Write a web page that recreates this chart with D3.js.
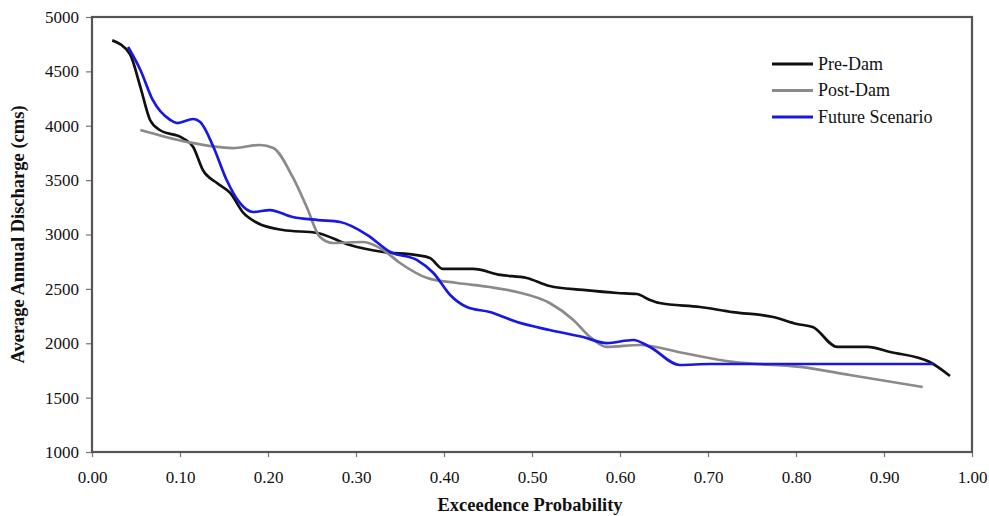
<!DOCTYPE html>
<html>
<head>
<meta charset="utf-8" />
<style>
  body { margin: 0; background: #fff; }
  text { font-family: "Liberation Serif", "Times New Roman", serif; fill: #111; }
  .tick text { font-size: 17px; }
  .title { font-size: 18.5px; font-weight: bold; }
  .legend { font-size: 18px; }
</style>
</head>
<body>
<div id="chart"></div>
<script src="https://cdn.jsdelivr.net/npm/d3@7/dist/d3.min.js"></script>
<script>
var seriesNames = ["Pre-Dam", "Post-Dam", "Future Scenario"];
var seriesColors = ["#111111", "#8a8a8a", "#1818e6"];

var preDamP = [0.023, 0.043, 0.055, 0.066, 0.077, 0.103, 0.115, 0.126, 0.142, 0.157, 0.172, 0.188, 0.217, 0.256, 0.293, 0.331, 0.369, 0.384, 0.399, 0.433, 0.464, 0.494, 0.520, 0.558, 0.597, 0.619, 0.634, 0.645, 0.691, 0.728, 0.774, 0.801, 0.819, 0.847, 0.881, 0.907, 0.952, 0.975];
var preDamQ = [4785, 4660, 4356, 4053, 3961, 3887, 3805, 3593, 3474, 3382, 3198, 3106, 3041, 3014, 2903, 2839, 2811, 2784, 2683, 2683, 2628, 2600, 2526, 2490, 2462, 2453, 2398, 2370, 2333, 2287, 2241, 2177, 2149, 1966, 1966, 1920, 1828, 1699];

var postDamP = [0.055, 0.108, 0.160, 0.191, 0.206, 0.228, 0.244, 0.259, 0.274, 0.308, 0.331, 0.350, 0.381, 0.415, 0.452, 0.483, 0.520, 0.547, 0.566, 0.585, 0.623, 0.672, 0.728, 0.805, 0.861, 0.944];
var postDamQ = [3961, 3851, 3795, 3823, 3795, 3529, 3253, 2977, 2922, 2931, 2857, 2738, 2600, 2554, 2517, 2471, 2370, 2214, 2057, 1966, 1984, 1910, 1828, 1782, 1708, 1598];

var futureP = [0.041, 0.055, 0.069, 0.089, 0.097, 0.115, 0.123, 0.138, 0.153, 0.168, 0.183, 0.202, 0.228, 0.257, 0.282, 0.313, 0.339, 0.369, 0.388, 0.407, 0.426, 0.452, 0.483, 0.520, 0.558, 0.585, 0.615, 0.634, 0.668, 0.702, 0.956];
var futureQ = [4724, 4513, 4237, 4053, 4025, 4062, 4034, 3805, 3501, 3290, 3207, 3225, 3161, 3133, 3115, 2995, 2839, 2766, 2646, 2444, 2333, 2287, 2195, 2122, 2057, 2002, 2030, 1966, 1800, 1809, 1809];

var xTicks = [0, 0.1, 0.2, 0.3, 0.4, 0.5, 0.6, 0.7, 0.8, 0.9, 1.0];
var yTicks = [1000, 1500, 2000, 2500, 3000, 3500, 4000, 4500, 5000];

var width = 989, height = 516;
var margin = {left: 92, right: 17, top: 17, bottom: 64};
var innerW = width - margin.left - margin.right;
var innerH = height - margin.top - margin.bottom;

var svg = d3.select('#chart').append('svg')
  .attr('width', width).attr('height', height);

var g = svg.append('g')
  .attr('transform', 'translate(' + margin.left + ',' + margin.top + ')');

var x = d3.scaleLinear().domain([0, 1]).range([0, innerW]);
var y = d3.scaleLinear().domain([1000, 5000]).range([innerH, 0]);

var xAxis = g.append('g')
  .attr('transform', 'translate(0,' + innerH + ')')
  .call(d3.axisBottom(x).tickValues(xTicks).tickFormat(d3.format('.2f')).tickSize(5).tickPadding(14));
var yAxis = g.append('g')
  .call(d3.axisLeft(y).tickValues(yTicks).tickFormat(d3.format('d')).tickSize(6).tickPadding(7));

[xAxis, yAxis].forEach(function(a) {
  a.select('.domain').remove();
  a.selectAll('.tick line').attr('stroke', '#777').attr('stroke-width', 1.2);
});

// frame
g.append('rect')
  .attr('x', 0).attr('y', 0)
  .attr('width', innerW).attr('height', innerH)
  .attr('fill', 'none')
  .attr('stroke', '#555')
  .attr('stroke-width', 2.2);

var data = [
  d3.zip(preDamP, preDamQ),
  d3.zip(postDamP, postDamQ),
  d3.zip(futureP, futureQ)
];

var line = d3.line()
  .x(function(d) { return x(d[0]); })
  .y(function(d) { return y(d[1]); })
  .curve(d3.curveMonotoneX);

g.selectAll('path.series')
  .data(data)
  .enter()
  .append('path')
  .attr('class', 'series')
  .attr('d', line)
  .attr('fill', 'none')
  .attr('stroke', function(d, i) { return seriesColors[i]; })
  .attr('stroke-width', 2.7)
  .attr('stroke-linejoin', 'round');

// legend
var legend = svg.append('g').attr('transform', 'translate(772,64)');
var items = legend.selectAll('g')
  .data(seriesNames)
  .enter().append('g')
  .attr('transform', function(d, i) { return 'translate(0,' + (i * 26.5) + ')'; });
items.append('line')
  .attr('x1', 0).attr('x2', 41)
  .attr('stroke', function(d, i) { return seriesColors[i]; })
  .attr('stroke-width', 2.8);
items.append('text')
  .attr('class', 'legend')
  .attr('x', 46).attr('dy', '0.32em')
  .text(function(d) { return d; });

// axis titles
svg.append('text')
  .attr('class', 'title')
  .attr('x', margin.left + innerW / 2 - 2)
  .attr('y', 511)
  .attr('text-anchor', 'middle')
  .text('Exceedence Probability');

svg.append('text')
  .attr('class', 'title')
  .attr('transform', 'translate(24,' + (margin.top + innerH / 2) + ') rotate(-90)')
  .attr('text-anchor', 'middle')
  .text('Average Annual Discharge (cms)');
</script>
</body>
</html>
